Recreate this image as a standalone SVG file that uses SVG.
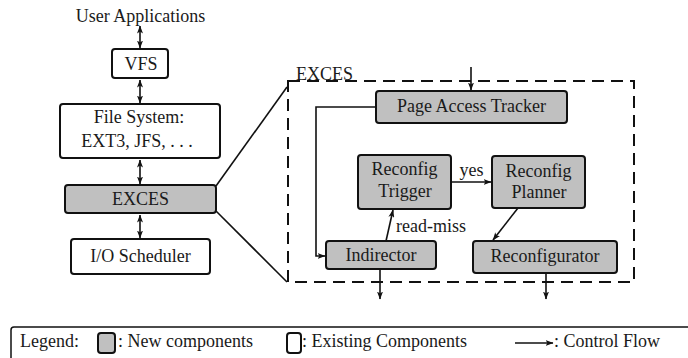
<svg xmlns="http://www.w3.org/2000/svg" width="688" height="358" viewBox="0 0 688 358" font-family="Liberation Serif, Times New Roman, serif" font-size="18">
  <style>
    text { fill: #1a1a1a; }
    .c { text-anchor: middle; }
    .box { stroke: #111; stroke-width: 2; }
    .new { fill: #c0c0c0; }
    .old { fill: #ffffff; }
    .ln { stroke: #111; stroke-width: 1.6; fill: none; }
    .arr { marker-end: url(#ah); }
    .dbl { marker-start: url(#ah); marker-end: url(#ah); }
    .dash { stroke: #111; stroke-width: 2; fill: none; stroke-dasharray: 12 7; }
  </style>
  <defs>
    <marker id="ah" viewBox="0 0 8 6" refX="7.5" refY="3" markerWidth="8" markerHeight="6" orient="auto-start-reverse" markerUnits="userSpaceOnUse">
      <path d="M0,0 L8,3 L0,6 L2,3 Z" fill="#111"/>
    </marker>
  </defs>

  <!-- Software stack -->
  <text class="c" x="140.5" y="22">User Applications</text>

  <g id="vfs">
    <rect class="box old" x="112" y="49" width="56" height="29" rx="3"/>
    <text class="c" x="141" y="70">VFS</text>
  </g>
  <g id="filesystem">
    <rect class="box old" x="60" y="104" width="160" height="54" rx="3"/>
    <text class="c" x="139" y="123">File System:</text>
    <text class="c" x="137" y="147">EXT3, JFS, . . .</text>
  </g>
  <g id="exces">
    <rect class="box new" x="65" y="185" width="151" height="28" rx="3"/>
    <text class="c" x="140.5" y="205">EXCES</text>
  </g>
  <g id="io-scheduler">
    <rect class="box old" x="71" y="239" width="139" height="35" rx="3"/>
    <text class="c" x="140.5" y="262">I/O Scheduler</text>
  </g>

  <!-- Expanded EXCES module -->
  <g id="exces-detail">
    <rect class="dash" x="288" y="81" width="346" height="201"/>
    <text x="296" y="80">EXCES</text>
  </g>
  <g id="page-access-tracker">
    <rect class="box new" x="376" y="91" width="191" height="32" rx="3"/>
    <text class="c" x="471.5" y="112">Page Access Tracker</text>
  </g>
  <g id="reconfig-trigger">
    <rect class="box new" x="358" y="155" width="93" height="54" rx="3"/>
    <text class="c" x="404.5" y="175">Reconfig</text>
    <text class="c" x="405" y="197">Trigger</text>
  </g>
  <g id="reconfig-planner">
    <rect class="box new" x="492" y="156" width="93" height="52" rx="3"/>
    <text class="c" x="538.5" y="177">Reconfig</text>
    <text class="c" x="539" y="198">Planner</text>
  </g>
  <g id="indirector">
    <rect class="box new" x="326" y="241" width="110" height="28" rx="3"/>
    <text class="c" x="381" y="261">Indirector</text>
  </g>
  <g id="reconfigurator">
    <rect class="box new" x="473" y="241" width="144" height="32" rx="3"/>
    <text class="c" x="545" y="262">Reconfigurator</text>
  </g>

  <!-- Connectors -->
  <g id="connectors">
    <path class="ln dbl" d="M140,26 V48"/>
    <path class="ln dbl" d="M140,80 V103"/>
    <path class="ln dbl" d="M140,160 V184"/>
    <path class="ln dbl" d="M140,215 V238"/>
    <path class="ln" d="M216,186 L287,87"/>
    <path class="ln" d="M216,211 L287,282"/>
    <path class="ln arr" d="M471,67 V90"/>
    <path class="ln arr" d="M376,107 H316 V256 H325"/>
    <path class="ln arr" d="M451,182 H491"/>
    <text class="c" x="471.5" y="176">yes</text>
    <path class="ln arr" d="M386,241 L393,210"/>
    <text x="396" y="232">read-miss</text>
    <path class="ln arr" d="M518,208 L493,240"/>
    <path class="ln arr" d="M380,269 V299"/>
    <path class="ln arr" d="M546,273 V299"/>
  </g>

  <!-- Legend -->
  <g id="legend">
    <rect x="11" y="327" width="690" height="50" rx="3" fill="#fff" stroke="#111" stroke-width="1.5"/>
    <text x="20" y="347">Legend:</text>
    <rect class="box new" x="98" y="333" width="17" height="20" rx="3"/>
    <text x="118" y="347">: New components</text>
    <rect class="box old" x="287" y="333" width="14" height="20" rx="3"/>
    <text x="302" y="347">: Existing Components</text>
    <path class="ln arr" d="M515,343 H553"/>
    <text x="554" y="347">: Control Flow</text>
  </g>
</svg>
